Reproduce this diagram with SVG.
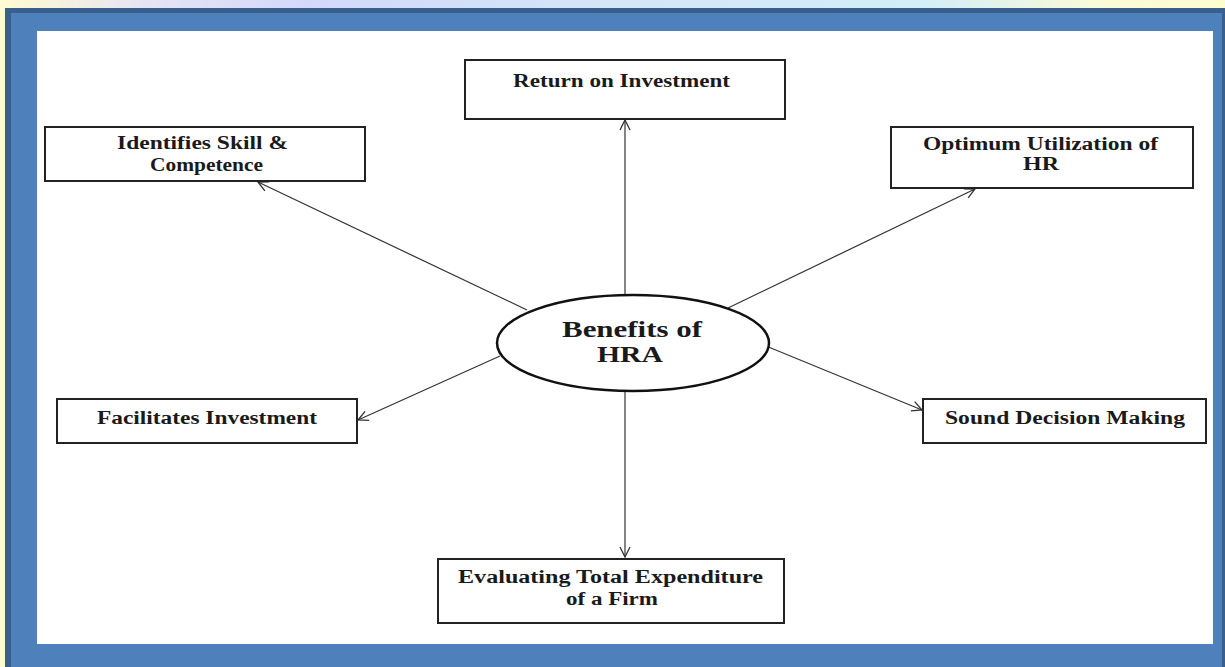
<svg xmlns="http://www.w3.org/2000/svg" width="1225" height="667" viewBox="0 0 1225 667">
<style>
.box{fill:#fff;stroke:#222;stroke-width:2}
.t{font-family:"Liberation Serif","Times New Roman",serif;font-weight:bold;font-size:18px;fill:#1a1a1a;text-anchor:middle}
.big{font-size:24px}
.con{stroke:#333;stroke-width:1.2;fill:none}
</style>
<defs>
<linearGradient id="sky" x1="0" y1="0" x2="1" y2="0">
<stop offset="0" stop-color="#fffbd2"/>
<stop offset="0.12" stop-color="#e6e4f4"/>
<stop offset="0.25" stop-color="#d2d8fa"/>
<stop offset="0.5" stop-color="#d4e6f8"/>
<stop offset="0.75" stop-color="#d2eef8"/>
<stop offset="0.9" stop-color="#fafcd8"/>
<stop offset="1" stop-color="#fffcd0"/>
</linearGradient>
<marker id="arr" viewBox="0 0 12 12" refX="11" refY="6" markerWidth="12" markerHeight="12" markerUnits="userSpaceOnUse" orient="auto">
<path d="M1,1 L11,6 L1,11" fill="none" stroke="#333" stroke-width="1.3"/>
</marker>
</defs>
<rect x="0" y="0" width="1225" height="667" fill="url(#sky)"/>
<rect x="5" y="8" width="1220" height="659" fill="#3b5f8c"/>
<rect x="11" y="13" width="1211" height="654" fill="#4e80bc"/>
<rect x="37" y="31" width="1176" height="613" fill="#fff"/>

<g id="connectors">
<line class="con" x1="625" y1="295" x2="625" y2="120" marker-end="url(#arr)"/>
<line class="con" x1="527" y1="310" x2="258" y2="182" marker-end="url(#arr)"/>
<line class="con" x1="728" y1="308" x2="975" y2="189" marker-end="url(#arr)"/>
<line class="con" x1="500" y1="356" x2="358" y2="420" marker-end="url(#arr)"/>
<line class="con" x1="766" y1="346" x2="922" y2="410" marker-end="url(#arr)"/>
<line class="con" x1="625" y1="392" x2="625" y2="557" marker-end="url(#arr)"/>
</g>

<g id="center">
<ellipse cx="633" cy="343" rx="136" ry="48" fill="#fff" stroke="#111" stroke-width="2.5"/>
<text class="t big" x="632" y="337" textLength="140" lengthAdjust="spacingAndGlyphs">Benefits of</text>
<text class="t big" x="630" y="362" textLength="66" lengthAdjust="spacingAndGlyphs">HRA</text>
</g>

<g id="return">
<rect class="box" x="465" y="60" width="320" height="59"/>
<text class="t" x="621.5" y="87" textLength="217" lengthAdjust="spacingAndGlyphs">Return on Investment</text>
</g>

<g id="identifies">
<rect class="box" x="45" y="127" width="320" height="54"/>
<text class="t" x="202.5" y="149" textLength="171" lengthAdjust="spacingAndGlyphs">Identifies Skill &amp;</text>
<text class="t" x="206.5" y="171" textLength="113" lengthAdjust="spacingAndGlyphs">Competence</text>
</g>

<g id="optimum">
<rect class="box" x="891" y="127" width="302" height="61"/>
<text class="t" x="1040.5" y="150" textLength="235" lengthAdjust="spacingAndGlyphs">Optimum Utilization of</text>
<text class="t" x="1041" y="170" textLength="36" lengthAdjust="spacingAndGlyphs">HR</text>
</g>

<g id="facilitates">
<rect class="box" x="57" y="399" width="300" height="44"/>
<text class="t" x="207" y="424" textLength="220" lengthAdjust="spacingAndGlyphs">Facilitates Investment</text>
</g>

<g id="sound">
<rect class="box" x="923" y="399" width="283" height="44"/>
<text class="t" x="1065" y="424" textLength="240" lengthAdjust="spacingAndGlyphs">Sound Decision Making</text>
</g>

<g id="evaluating">
<rect class="box" x="438" y="559" width="346" height="64"/>
<text class="t" x="610.5" y="583" textLength="305" lengthAdjust="spacingAndGlyphs">Evaluating Total Expenditure</text>
<text class="t" x="612" y="605" textLength="92" lengthAdjust="spacingAndGlyphs">of a Firm</text>
</g>
</svg>
